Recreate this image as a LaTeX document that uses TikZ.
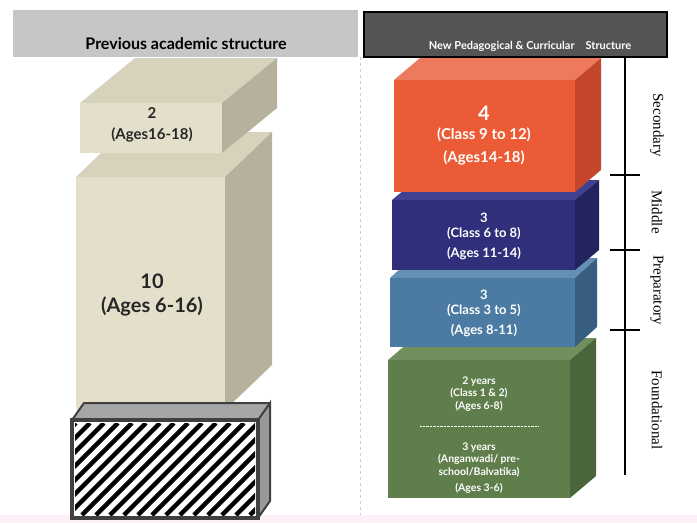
\documentclass[tikz,border=0pt]{standalone}
\usepackage{fontspec}
\setmainfont{Lato}
\newfontfamily\serif{Liberation Serif}
\newcommand{\fs}[2]{\fontsize{#1}{#2}\selectfont}
\newcommand{\mycuboid}[9]{%
  \fill[#8] (#1,#2) -- ++(#5,-#6) -- (#3+#5,#2-#6) -- (#3,#2) -- cycle;
  \fill[#9] (#3,#2) -- (#3+#5,#2-#6) -- (#3+#5,#4-#6) -- (#3,#4) -- cycle;
  \fill[#7] (#1,#2) rectangle (#3,#4);}
\definecolor{beigeF}{HTML}{E3DFCB}\definecolor{beigeT}{HTML}{D6D2BC}\definecolor{beigeS}{HTML}{B5B19C}
\definecolor{orF}{HTML}{EA5B36}\definecolor{orT}{HTML}{EE7A5E}\definecolor{orS}{HTML}{C4472B}
\definecolor{nvF}{HTML}{2F2F7C}\definecolor{nvT}{HTML}{414194}\definecolor{nvS}{HTML}{23235E}
\definecolor{stF}{HTML}{4B7BA2}\definecolor{stT}{HTML}{6690B3}\definecolor{stS}{HTML}{375E80}
\definecolor{grF}{HTML}{5F7E4B}\definecolor{grT}{HTML}{718F5C}\definecolor{grS}{HTML}{4A653A}
\tikzset{lbl/.style={font=\bfseries, align=center, text=white},
  dlbl/.style={align=center, text=black!85},
  side/.style={font=\serif\fs{15}{18}, rotate=-90}}
\begin{document}
\begin{tikzpicture}[x=1pt,y=-1pt]
\useasboundingbox (0,0) rectangle (697,523);
\fill[white] (0,0) rectangle (697,523);
\fill[magenta!6] (0,515) rectangle (697,523);
% headers
\fill[gray!45] (13,10) rectangle (358,57);
\node[font=\bfseries\fs{16}{19}] (h1) at (186,44) {Previous academic structure};
\fill[black!67] (364,12) rectangle (667,57);
\draw[line width=1.2pt] (364,12) rectangle (667,57);
\node[font=\bfseries\fs{11}{13}, text=white] (h2) at (530,46) {New Pedagogical \& Curricular\quad Structure};
\draw[gray!40, dashed] (360,57) -- (360,515);
% left boxes
\mycuboid{76}{177}{225}{410}{47}{45}{beigeF}{beigeT}{beigeS}
\node[dlbl, font=\bfseries\fs{20}{24}] (b10) at (152,295) {10\\(Ages 6-16)};
\mycuboid{80}{103}{222}{153}{55}{45}{beigeF}{beigeT}{beigeS}
\node[dlbl, font=\bfseries\fs{15}{18}] (b2) at (152,125) {2\\[3pt](Ages16-18)};
\fill[gray!70] (72,420) -- (84,403) -- (270,403) -- (258,420) -- cycle;
\fill[gray!80] (258,420) -- (270,403) -- (270,501) -- (258,518) -- cycle;
\fill[white] (72,420) rectangle (258,518);
\begin{scope}
\clip (75,423) rectangle (255,515);
\foreach \i in {-100,-86,...,300} \draw[line width=4.5pt] (\i,515) -- (\i+92,423);
\end{scope}
\draw[line width=3.5pt, black!75] (72,420) rectangle (258,518);
\draw[line width=2pt, black!75] (258,420) -- (270,403) -- (270,501) -- (258,518);
\draw[line width=2pt, black!75] (72,420) -- (84,403) -- (270,403);
% right boxes
\mycuboid{388}{360}{570}{498}{26}{22}{grF}{grT}{grS}
\mycuboid{390}{278}{575}{347}{22}{20}{stF}{stT}{stS}
\mycuboid{392}{200}{575}{270}{24}{20}{nvF}{nvT}{nvS}
\mycuboid{394}{80}{575}{192}{26}{22}{orF}{orT}{orS}
\node[lbl, font=\bfseries\fs{15}{18}] (r4) at (484,136) {{\fs{20}{22}4}\\[1pt](Class 9 to 12)\\[5pt](Ages14-18)};
\node[lbl, font=\bfseries\fs{13}{15.5}] (r3a) at (484,236) {3\\(Class 6 to 8)\\[4pt](Ages 11-14)};
\node[lbl, font=\bfseries\fs{13}{15.5}] (r3b) at (484,313) {3\\(Class 3 to 5)\\[4pt](Ages 8-11)};
\node[lbl, font=\bfseries\fs{10.5}{12.5}] (g1) at (479,394) {2 years\\(Class 1 \& 2)\\(Ages 6-8)};
\draw[white, densely dotted] (420,426) -- (538,426);
\node[lbl, font=\bfseries\fs{10.5}{12.5}] (g2) at (479,468) {3 years\\(Anganwadi/ pre-\\school/Balvatika)\\[4pt](Ages 3-6)};
% stage axis
\coordinate (ta) at (625,58); \coordinate (tb) at (625,475);
\draw[line width=2.5pt] (ta) -- (tb);
\foreach \y in {175,250,330} \draw[line width=2.5pt] (610,\y) -- (640,\y);
\node[side] (s1) at (657,125) {Secondary};
\node[side] (s2) at (657,212) {Middle};
\node[side] (s3) at (657,290) {Preparatory};
\node[side] (s4) at (657,410) {Foundational};
\end{tikzpicture}
\end{document}
